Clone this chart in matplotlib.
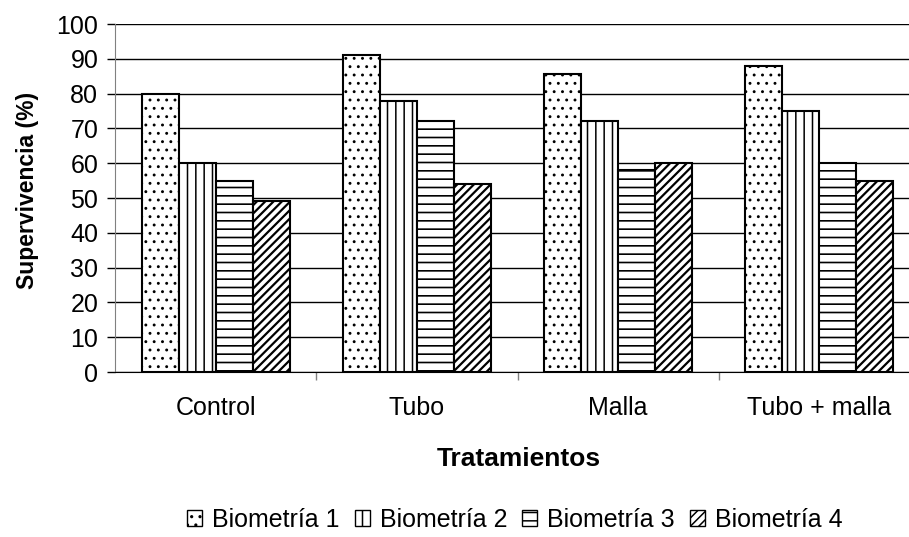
import numpy as np
import matplotlib
matplotlib.use('Agg')
import matplotlib.pyplot as plt
from matplotlib.patches import Patch

plt.rcParams['font.family'] = ['Liberation Sans', 'DejaVu Sans']
plt.rcParams['hatch.linewidth'] = 1.1

tratamientos = ['Control', 'Tubo', 'Malla', 'Tubo + malla']
series_names = ['Biometría 1', 'Biometría 2', 'Biometría 3', 'Biometría 4']
biometria_1 = [80, 91, 85.6, 88]
biometria_2 = [60, 78, 72, 75]
biometria_3 = [55, 72, 58, 60]
biometria_4 = [49, 54, 60, 55]
hatches = ['..', '||', '--', '////']
hatch_lw = [0.9, 1.1, 1.2, 1.6]

fig = plt.figure(figsize=(9.09, 5.37), dpi=100)
ax = fig.add_axes([115 / 909, 165 / 537, 805 / 909, 348 / 537])

x = np.arange(len(tratamientos))
w = 0.184
all_series = [biometria_1, biometria_2, biometria_3, biometria_4]
for i, (vals, h) in enumerate(zip(all_series, hatches)):
    with plt.rc_context({'hatch.linewidth': hatch_lw[i]}):
        ax.bar(x + (i - 1.5) * w, vals, width=w, facecolor='white', edgecolor='black',
               hatch=h, linewidth=1.5, zorder=3)

ax.set_xlim(-0.5, 3.5)
ax.set_ylim(0, 100)
ax.set_yticks(range(0, 101, 10))
ax.yaxis.grid(True, color='black', linewidth=1.0, zorder=0)
ax.set_axisbelow(True)

# category labels centred, tick marks between groups
ax.set_xticks(x)
ax.set_xticklabels(tratamientos, fontsize=18)
ax.tick_params(axis='x', length=0, pad=17)
ax.set_xticks(np.arange(0.5, 3.5, 1), minor=True)
ax.tick_params(axis='x', which='minor', length=6, color='gray', width=1)
ax.tick_params(axis='y', labelsize=18, length=6, width=1, color='black', pad=6)

for s in ['top', 'right']:
    ax.spines[s].set_visible(False)
ax.spines['left'].set_color('gray')
ax.spines['bottom'].set_color('black')

ax.set_ylabel('Supervivencia (%)', fontsize=16.5, fontweight='bold')
ax.yaxis.set_label_coords(-0.095, 0.523)
ax.set_xlabel('Tratamientos', fontsize=19, fontweight='bold')
ax.xaxis.set_label_coords(0.502, -0.215)

handles = []
for h, lw in zip(hatches, hatch_lw):
    with plt.rc_context({'hatch.linewidth': lw}):
        handles.append(Patch(facecolor='white', edgecolor='black', hatch=h, linewidth=1.0))
fig.legend(handles, series_names, loc='center', bbox_to_anchor=(515 / 909, 1 - 520 / 537),
           ncol=4, frameon=False, fontsize=18, handlelength=0.6, handleheight=0.6,
           handletextpad=0.4, columnspacing=0.6)

fig.savefig('out.png', dpi=100)
